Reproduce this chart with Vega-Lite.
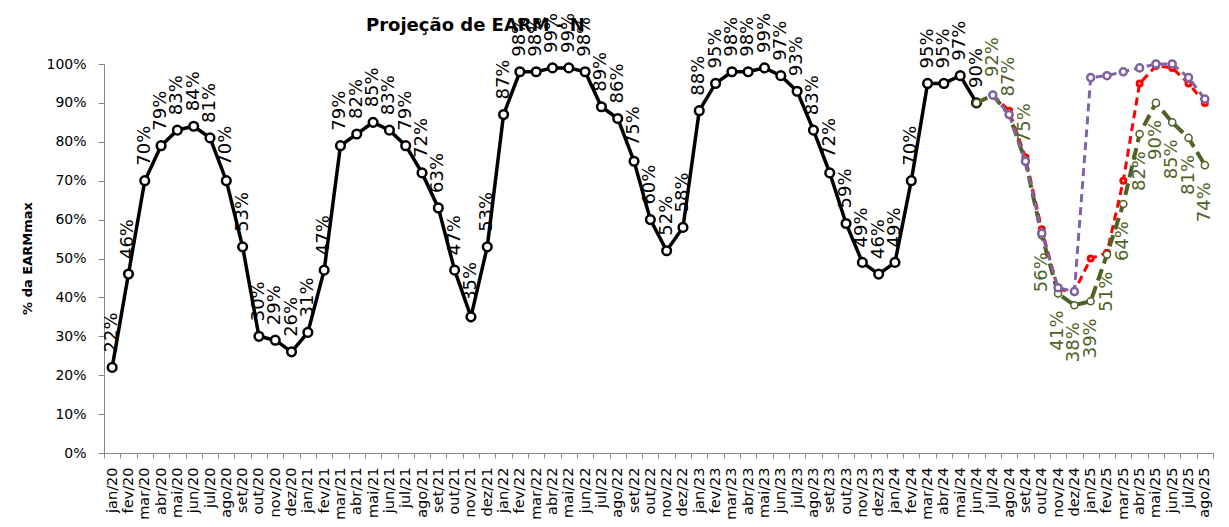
{
  "$schema": "https://vega.github.io/schema/vega-lite/v6.json",
  "width": 1109,
  "height": 389,
  "autosize": {"type": "none"},
  "padding": {"left": 104, "top": 64, "right": 16, "bottom": 74},
  "background": "white",
  "config": {"view": {"stroke": null}, "font": "DejaVu Sans"},
  "title": {"text": "Projeção de EARM - N", "fontSize": 18, "fontWeight": "bold", "anchor": "start", "dx": 345, "offset": -22, "color": "#000", "font": "DejaVu Sans"},
  "data": {"values": [
    {"mes":"jan/20","serie":"Verificado","valor":0.22},{"mes":"fev/20","serie":"Verificado","valor":0.46},{"mes":"mar/20","serie":"Verificado","valor":0.70},{"mes":"abr/20","serie":"Verificado","valor":0.79},{"mes":"mai/20","serie":"Verificado","valor":0.83},{"mes":"jun/20","serie":"Verificado","valor":0.84},{"mes":"jul/20","serie":"Verificado","valor":0.81},{"mes":"ago/20","serie":"Verificado","valor":0.70},{"mes":"set/20","serie":"Verificado","valor":0.53},{"mes":"out/20","serie":"Verificado","valor":0.30},{"mes":"nov/20","serie":"Verificado","valor":0.29},{"mes":"dez/20","serie":"Verificado","valor":0.26},
    {"mes":"jan/21","serie":"Verificado","valor":0.31},{"mes":"fev/21","serie":"Verificado","valor":0.47},{"mes":"mar/21","serie":"Verificado","valor":0.79},{"mes":"abr/21","serie":"Verificado","valor":0.82},{"mes":"mai/21","serie":"Verificado","valor":0.85},{"mes":"jun/21","serie":"Verificado","valor":0.83},{"mes":"jul/21","serie":"Verificado","valor":0.79},{"mes":"ago/21","serie":"Verificado","valor":0.72},{"mes":"set/21","serie":"Verificado","valor":0.63},{"mes":"out/21","serie":"Verificado","valor":0.47},{"mes":"nov/21","serie":"Verificado","valor":0.35},{"mes":"dez/21","serie":"Verificado","valor":0.53},
    {"mes":"jan/22","serie":"Verificado","valor":0.87},{"mes":"fev/22","serie":"Verificado","valor":0.98},{"mes":"mar/22","serie":"Verificado","valor":0.98},{"mes":"abr/22","serie":"Verificado","valor":0.99},{"mes":"mai/22","serie":"Verificado","valor":0.99},{"mes":"jun/22","serie":"Verificado","valor":0.98},{"mes":"jul/22","serie":"Verificado","valor":0.89},{"mes":"ago/22","serie":"Verificado","valor":0.86},{"mes":"set/22","serie":"Verificado","valor":0.75},{"mes":"out/22","serie":"Verificado","valor":0.60},{"mes":"nov/22","serie":"Verificado","valor":0.52},{"mes":"dez/22","serie":"Verificado","valor":0.58},
    {"mes":"jan/23","serie":"Verificado","valor":0.88},{"mes":"fev/23","serie":"Verificado","valor":0.95},{"mes":"mar/23","serie":"Verificado","valor":0.98},{"mes":"abr/23","serie":"Verificado","valor":0.98},{"mes":"mai/23","serie":"Verificado","valor":0.99},{"mes":"jun/23","serie":"Verificado","valor":0.97},{"mes":"jul/23","serie":"Verificado","valor":0.93},{"mes":"ago/23","serie":"Verificado","valor":0.83},{"mes":"set/23","serie":"Verificado","valor":0.72},{"mes":"out/23","serie":"Verificado","valor":0.59},{"mes":"nov/23","serie":"Verificado","valor":0.49},{"mes":"dez/23","serie":"Verificado","valor":0.46},
    {"mes":"jan/24","serie":"Verificado","valor":0.49},{"mes":"fev/24","serie":"Verificado","valor":0.70},{"mes":"mar/24","serie":"Verificado","valor":0.95},{"mes":"abr/24","serie":"Verificado","valor":0.95},{"mes":"mai/24","serie":"Verificado","valor":0.97},{"mes":"jun/24","serie":"Verificado","valor":0.90},
    {"mes":"jul/24","serie":"Cenário 1","valor":0.92},{"mes":"ago/24","serie":"Cenário 1","valor":0.88},{"mes":"set/24","serie":"Cenário 1","valor":0.76},{"mes":"out/24","serie":"Cenário 1","valor":0.575},{"mes":"nov/24","serie":"Cenário 1","valor":0.42},{"mes":"dez/24","serie":"Cenário 1","valor":0.415},{"mes":"jan/25","serie":"Cenário 1","valor":0.50},{"mes":"fev/25","serie":"Cenário 1","valor":0.515},{"mes":"mar/25","serie":"Cenário 1","valor":0.70},{"mes":"abr/25","serie":"Cenário 1","valor":0.95},{"mes":"mai/25","serie":"Cenário 1","valor":0.995},{"mes":"jun/25","serie":"Cenário 1","valor":0.99},{"mes":"jul/25","serie":"Cenário 1","valor":0.95},{"mes":"ago/25","serie":"Cenário 1","valor":0.90},
    {"mes":"jun/24","serie":"Cenário 3","valor":0.90},{"mes":"jul/24","serie":"Cenário 3","valor":0.92},{"mes":"ago/24","serie":"Cenário 3","valor":0.87},{"mes":"set/24","serie":"Cenário 3","valor":0.75},{"mes":"out/24","serie":"Cenário 3","valor":0.56},{"mes":"nov/24","serie":"Cenário 3","valor":0.41},{"mes":"dez/24","serie":"Cenário 3","valor":0.38},{"mes":"jan/25","serie":"Cenário 3","valor":0.39},{"mes":"fev/25","serie":"Cenário 3","valor":0.51},{"mes":"mar/25","serie":"Cenário 3","valor":0.64},{"mes":"abr/25","serie":"Cenário 3","valor":0.82},{"mes":"mai/25","serie":"Cenário 3","valor":0.90},{"mes":"jun/25","serie":"Cenário 3","valor":0.85},{"mes":"jul/25","serie":"Cenário 3","valor":0.81},{"mes":"ago/25","serie":"Cenário 3","valor":0.74},
    {"mes":"jul/24","serie":"Cenário 2","valor":0.92},{"mes":"ago/24","serie":"Cenário 2","valor":0.87},{"mes":"set/24","serie":"Cenário 2","valor":0.75},{"mes":"out/24","serie":"Cenário 2","valor":0.565},{"mes":"nov/24","serie":"Cenário 2","valor":0.425},{"mes":"dez/24","serie":"Cenário 2","valor":0.415},{"mes":"jan/25","serie":"Cenário 2","valor":0.965},{"mes":"fev/25","serie":"Cenário 2","valor":0.97},{"mes":"mar/25","serie":"Cenário 2","valor":0.98},{"mes":"abr/25","serie":"Cenário 2","valor":0.99},{"mes":"mai/25","serie":"Cenário 2","valor":1.0},{"mes":"jun/25","serie":"Cenário 2","valor":1.0},{"mes":"jul/25","serie":"Cenário 2","valor":0.965},{"mes":"ago/25","serie":"Cenário 2","valor":0.91}
  ]},
  "encoding": {
    "x": {"field": "mes", "type": "ordinal", "title": null,
      "scale": {"type": "band", "paddingInner": 0, "paddingOuter": 0,
        "domain": ["jan/20","fev/20","mar/20","abr/20","mai/20","jun/20","jul/20","ago/20","set/20","out/20","nov/20","dez/20","jan/21","fev/21","mar/21","abr/21","mai/21","jun/21","jul/21","ago/21","set/21","out/21","nov/21","dez/21","jan/22","fev/22","mar/22","abr/22","mai/22","jun/22","jul/22","ago/22","set/22","out/22","nov/22","dez/22","jan/23","fev/23","mar/23","abr/23","mai/23","jun/23","jul/23","ago/23","set/23","out/23","nov/23","dez/23","jan/24","fev/24","mar/24","abr/24","mai/24","jun/24","jul/24","ago/24","set/24","out/24","nov/24","dez/24","jan/25","fev/25","mar/25","abr/25","mai/25","jun/25","jul/25","ago/25"]},
      "axis": {"labelAngle": 270, "labelFontSize": 14.5, "labelColor": "#000", "labelPadding": 9, "tickSize": 5, "tickBand": "extent", "tickColor": "#868686", "domainColor": "#868686", "grid": false, "labelFont": "DejaVu Sans"}},
    "y": {"field": "valor", "type": "quantitative", "title": "% da EARMmax",
      "scale": {"domain": [0, 1], "nice": false},
      "axis": {"values": [0,0.1,0.2,0.3,0.4,0.5,0.6,0.7,0.8,0.9,1.0], "format": ".0%", "labelFontSize": 14, "labelColor": "#000", "labelPadding": 12, "tickSize": 6, "tickColor": "#868686", "domainColor": "#868686", "grid": false, "titleFontSize": 13, "titleFontWeight": "bold", "titleColor": "#000", "titleX": -77, "titleY": 194, "titleAngle": 270, "titleAlign": "center", "titleBaseline": "middle", "labelFont": "DejaVu Sans", "titleFont": "DejaVu Sans"}}
  },
  "layer": [
    {"transform": [{"filter": "datum.serie == 'Verificado'"}], "mark": {"type": "line", "color": "#000", "strokeWidth": 3.5}},
    {"transform": [{"filter": "datum.serie == 'Verificado'"}], "mark": {"type": "point", "shape": "circle", "filled": true, "fill": "white", "stroke": "#000", "strokeWidth": 2.5, "size": 75, "opacity": 1}},
    {"transform": [{"filter": "datum.serie == 'Cenário 1'"}], "mark": {"type": "line", "color": "#FF0000", "strokeWidth": 3, "strokeDash": [8, 5]}},
    {"transform": [{"filter": "datum.serie == 'Cenário 1'"}], "mark": {"type": "point", "shape": "circle", "filled": true, "fill": "white", "stroke": "#FF0000", "strokeWidth": 3, "size": 25, "opacity": 1}},
    {"transform": [{"filter": "datum.serie == 'Cenário 3'"}], "mark": {"type": "line", "color": "#4F6228", "strokeWidth": 4, "strokeDash": [12, 6]}},
    {"transform": [{"filter": "datum.serie == 'Cenário 3'"}], "mark": {"type": "point", "shape": "circle", "filled": true, "fill": "white", "stroke": "#4F6228", "strokeWidth": 1.5, "size": 50, "opacity": 1}},
    {"transform": [{"filter": "datum.serie == 'Cenário 2'"}], "mark": {"type": "line", "color": "#8064A2", "strokeWidth": 3, "strokeDash": [8, 5]}},
    {"transform": [{"filter": "datum.serie == 'Cenário 2'"}], "mark": {"type": "point", "shape": "circle", "filled": true, "fill": "white", "stroke": "#8064A2", "strokeWidth": 2.5, "size": 50, "opacity": 1}},
    {"transform": [{"filter": "datum.serie == 'Verificado'"}], "mark": {"type": "text", "angle": 270, "align": "left", "baseline": "middle", "dx": 15, "fontSize": 18, "color": "#000", "font": "DejaVu Sans"}, "encoding": {"text": {"field": "valor", "type": "quantitative", "format": ".0%"}}},
    {"transform": [{"filter": "datum.serie == 'Cenário 3' && indexof(['jul/24','ago/24','set/24'], datum.mes) >= 0"}], "mark": {"type": "text", "angle": 270, "align": "left", "baseline": "middle", "dx": 18, "fontSize": 18, "color": "#4F6228", "font": "DejaVu Sans"}, "encoding": {"text": {"field": "valor", "type": "quantitative", "format": ".0%"}}},
    {"transform": [{"filter": "datum.serie == 'Cenário 3' && indexof(['jun/24','jul/24','ago/24','set/24'], datum.mes) < 0"}], "mark": {"type": "text", "angle": 270, "align": "right", "baseline": "middle", "dx": -17, "fontSize": 18, "color": "#4F6228", "font": "DejaVu Sans"}, "encoding": {"text": {"field": "valor", "type": "quantitative", "format": ".0%"}}}
  ]
}
